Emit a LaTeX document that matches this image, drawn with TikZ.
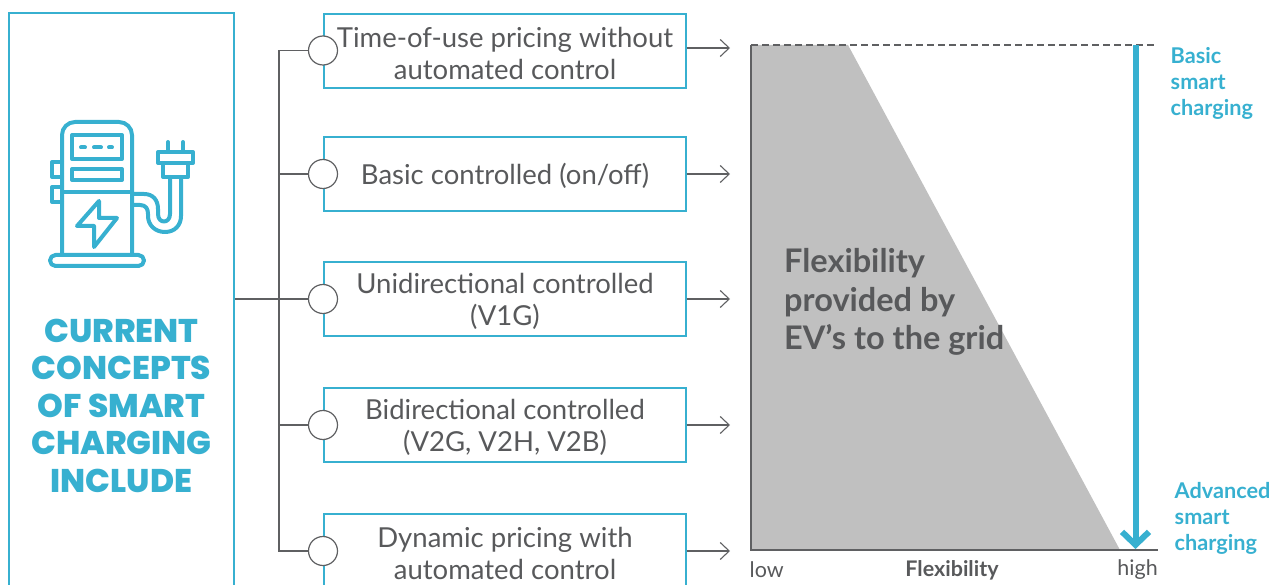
\documentclass[tikz,border=0pt]{standalone}
\usepackage{fontspec}
\setmainfont{Lato}
\newfontfamily\headfont[BoldFont={Poppins ExtraBold}]{Poppins}
\usetikzlibrary{arrows.meta}
\definecolor{iblue}{HTML}{37B0D0}
\definecolor{itext}{HTML}{58595B}
\definecolor{iline}{HTML}{5F6062}
\definecolor{igray}{HTML}{C0C0C0}
\newcommand{\boxtop}{\rule{0pt}{25pt}}
\tikzset{
  x=1pt,y=-1pt,
  conceptbox/.style={draw=iblue,line width=1.2pt,minimum width=362pt,minimum height=74pt,align=center,inner sep=0pt,text=itext,font=\fontsize{27.5}{32}\selectfont,anchor=center},
  dot/.style={circle,draw=iline,fill=white,line width=1.2pt,minimum size=29pt,inner sep=0pt},
  link/.style={draw=iline,line width=1.2pt},
  openarrow/.style={draw=iline,line width=1.1pt,-{Straight Barb[length=9pt,width=17pt,line width=1.1pt]}},
  iconline/.style={draw=iblue,line width=4pt,line join=round,line cap=round},
  bluetxt/.style={text=iblue,font=\fontsize{21.7}{26}\selectfont\bfseries,align=left,anchor=north west,inner sep=0pt},
  axislabel/.style={text=itext,font=\fontsize{21.5}{24}\selectfont,inner sep=0pt}
}
\begin{document}
\begin{tikzpicture}
\useasboundingbox (0,0) rectangle (1279,585);
\clip (0,0) rectangle (1279,585);
% left panel
\node[draw=iblue,line width=1.2pt,minimum width=225pt,minimum height=640pt,inner sep=0pt] (panel) at (121.5,333) {};
\node[text=iblue,align=center,inner sep=0pt,font=\headfont\bfseries\fontsize{32.8}{37.5}\selectfont] (title) at (121.5,405.5) {CURRENT\\CONCEPTS\\OF SMART\\CHARGING\\INCLUDE};
% icon
\draw[iconline,rounded corners=13pt] (62,255) -- (62,122) -- (132,122) -- (132,255);
\draw[iconline] (72,135) rectangle (122,159);
\draw[iconline] (72,169) rectangle (122,180);
\draw[iconline] (62,192) -- (132,192);
\draw[iconline] (81,147.5) -- (85,147.5) (94,147.5) -- (101,147.5) (109,147.5) -- (112,147.5);
\draw[iconline] (62,162) -- (52,162) -- (52,177) -- (62,177);
\draw[iconline] (62,187) -- (52,187) -- (52,202) -- (62,202);
\draw[iconline,rounded corners=5.5pt] (50,255) rectangle (144,266);
\draw[iconline] (99,201) -- (77,226) -- (94,226) -- (94,247) -- (117,218) -- (99,218) -- cycle;
\draw[iconline] (158,152) rectangle (193,163);
\draw[iconline] (163,163) -- (163,177) -- (188,177) -- (188,163);
\draw[iconline] (168,142) -- (168,152) (183,142) -- (183,152);
\draw[iconline] (132,194) -- (144,194) .. controls (153,194) and (158,200) .. (158,209) -- (158,214) .. controls (158,224) and (170,224) .. (170,214) -- (170,177);
\draw[iconline] (132,205) -- (140,205) .. controls (146,205) and (148,209) .. (148,214) -- (148,216) .. controls (148,225) and (155,232) .. (165,232) .. controls (175,232) and (181,225) .. (181,216) -- (181,177);
% concept boxes
\node[conceptbox] (b1) at (505,51) {\boxtop Time-of-use pricing without\\automated control};
\node[conceptbox] (b2) at (505,174) {\boxtop Basic controlled (on/off)};
\node[conceptbox] (b3) at (505,299) {\boxtop Unidirectional controlled\\(V1G)};
\node[conceptbox] (b4) at (505,425) {\boxtop Bidirectional controlled\\(V2G, V2H, V2B)};
\node[conceptbox] (b5) at (505,551) {\boxtop Dynamic pricing with\\automated control};
% dots
\node[dot] (d1) at (323,50.5) {};
\node[dot] (d2) at (323,174) {};
\node[dot] (d3) at (323,299) {};
\node[dot] (d4) at (323,425) {};
\node[dot] (d5) at (323,551) {};
% trunk
\coordinate (trunkA) at (279,50.5);
\coordinate (trunkB) at (279,551);
\draw[link] (d1.west) -- (trunkA) -- (trunkB) -- (d5.west);
\draw[link] (d2.west) -- (279,174);
\draw[link] (d4.west) -- (279,425);
\draw[link] (panel.east |- d3) -- (d3.west);
% arrows
\coordinate (a1) at (730,48);
\coordinate (a2) at (730,174);
\coordinate (a3) at (730,299);
\coordinate (a4) at (730,425);
\coordinate (a5) at (730,551);
\draw[openarrow] (b1.east |- a1) -- (a1);
\draw[openarrow] (b2.east |- a2) -- (a2);
\draw[openarrow] (b3.east |- a3) -- (a3);
\draw[openarrow] (b4.east |- a4) -- (a4);
\draw[openarrow] (b5.east |- a5) -- (a5);
% chart
\fill[igray] (751,45) -- (848,45) -- (1120,550) -- (751,550) -- cycle;
\coordinate (topL) at (751,45);
\coordinate (topR) at (1155,45);
\coordinate (botL) at (751,550);
\coordinate (botR) at (1158,550);
\draw[draw=iline,line width=1.1pt,dash pattern=on 7pt off 4pt] (topL) -- (topR);
\draw[draw=iline,line width=1.2pt] (topL) -- (botL) -- (botR);
\coordinate (arrTop) at (1135.5,45);
\coordinate (arrBot) at (1135.5,549);
\draw[draw=iblue,line width=6pt,-{Straight Barb[length=13pt,width=27pt,line width=6pt]}] (arrTop) -- (arrBot);
\node[text=itext,align=left,anchor=north west,inner sep=0pt,font=\fontsize{32.5}{38.5}\selectfont\bfseries] (flex) at (784,248.5) {Flexibility\\provided by\\EV's to the grid};
\node[bluetxt] (basic) at (1170.5,47.5) {Basic\\smart\\charging};
\node[bluetxt] (adv) at (1174.5,482.5) {Advanced\\smart\\charging};
\node[axislabel,anchor=west] (low) at (749.5,570) {low};
\node[axislabel,font=\fontsize{21.5}{24}\selectfont\bfseries] (fx) at (952,570) {Flexibility};
\node[axislabel,anchor=east] (high) at (1158,570) {high};
\end{tikzpicture}
\end{document}
